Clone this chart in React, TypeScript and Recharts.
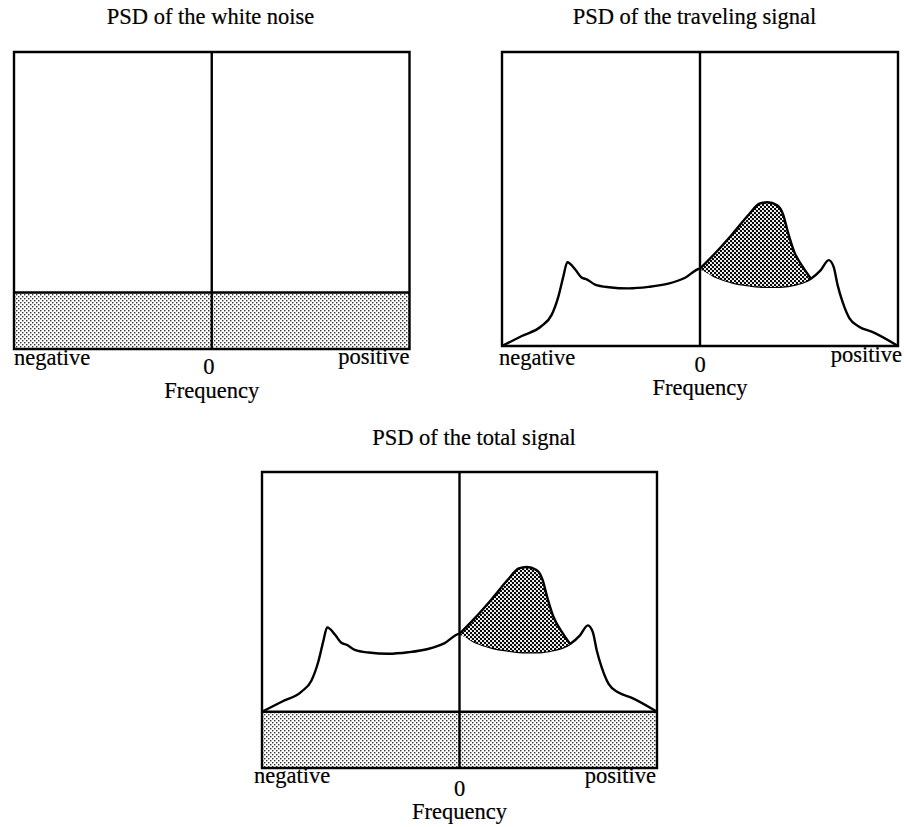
import React from 'react';
import { AreaChart, Area, XAxis, YAxis, ReferenceLine, ReferenceArea } from 'recharts';

// Normalised frequency axis: -1 = most negative, 0 = zero, 1 = most positive
const freq = [
  -1, -0.9, -0.8, -0.75, -0.715, -0.69, -0.67, -0.63, -0.6, -0.57,
  -0.53, -0.46, -0.36, -0.26, -0.16, -0.075, 0,
  0.08, 0.165, 0.25, 0.3, 0.34, 0.39, 0.42, 0.445, 0.475, 0.52,
  0.56, 0.61, 0.65, 0.675, 0.695, 0.72, 0.755, 0.805, 0.87, 1,
];

// Broadband part of the traveling-signal PSD (two resonance peaks)
const backgroundPsd = [
  0, 0.34, 0.68, 1.05, 1.69, 2.37, 2.85, 2.6, 2.34, 2.26,
  2.09, 2.0, 1.96, 2.01, 2.12, 2.32, 2.63,
  2.35, 2.16, 2.06, 2.02, 2.01, 2.01, 2.02, 2.04, 2.08, 2.16,
  2.29, 2.58, 2.92, 2.69, 2.07, 1.5, 0.94, 0.65, 0.48, 0,
];

// Extra energy of the travelling wave on the positive side (above the background)
const wavePsd: (number | null)[] = [
  null, null, null, null, null, null, null, null, null, null,
  null, null, null, null, null, null, 0,
  0.83, 1.66, 2.44, 2.82, 2.88, 2.78, 2.45, 1.81, 1.14, 0.52,
  0, null, null, null, null, null, null, null, null, null,
];

// White-noise level (flat across frequency)
const noiseLevel = 1.9;

const tickValues = [-1, 0, 1];
const tickLabels: Record<number, string> = { [-1]: 'negative', 0: '0', 1: 'positive' };

const rows = freq.map((f, i) => ({
  f,
  noise: noiseLevel,
  background: backgroundPsd[i],
  wave: wavePsd[i],
}));

const FONT = '"Liberation Serif", "Times New Roman", serif';
const FS = 22.5;
const TEXT_STROKE = 0.2;
const LINE_W = 2.4;

type LabelOffsets = {
  negDx: number; negDy: number;
  zeroDx: number; zeroDy: number;
  posDx: number; posDy: number;
  freqDy: number;
};

type PanelSpec = {
  id: string;
  title: string;
  titleX: number;
  titleBaseline: number;
  left: number;
  top: number;
  width: number;
  height: number;
  showNoise: boolean;
  showSignal: boolean;
  offsets: LabelOffsets;
};

const panels: PanelSpec[] = [
  {
    id: 'noise', title: 'PSD of the white noise', titleX: 210.5, titleBaseline: 24.5,
    left: 14, top: 52, width: 395.5, height: 297, showNoise: true, showSignal: false,
    offsets: { negDx: 0, negDy: 16, zeroDx: -3, zeroDy: 25, posDx: 0, posDy: 15, freqDy: 49 },
  },
  {
    id: 'signal', title: 'PSD of the traveling signal', titleX: 694.5, titleBaseline: 25,
    left: 501.5, top: 52, width: 396, height: 294, showNoise: false, showSignal: true,
    offsets: { negDx: -3, negDy: 19, zeroDx: 0, zeroDy: 25.5, posDx: 4, posDy: 16, freqDy: 48.5 },
  },
  {
    id: 'total', title: 'PSD of the total signal', titleX: 474, titleBaseline: 446,
    left: 261.5, top: 472, width: 395, height: 296, showNoise: true, showSignal: true,
    offsets: { negDx: -8, negDy: 15, zeroDx: 0, zeroDy: 28, posDx: -1, posDy: 15, freqDy: 51 },
  },
];

const M_L = 16;
const M_R = 16;
const M_T = 4;
const AXIS_H = 62;

function makeTick(o: LabelOffsets) {
  return function FreqTick(props: any) {
    const { x, y, payload } = props;
    const v = payload.value;
    let dx = o.zeroDx, dy = o.zeroDy, anchor: 'start' | 'middle' | 'end' = 'middle';
    if (v < 0) { dx = o.negDx; dy = o.negDy; anchor = 'start'; }
    if (v > 0) { dx = o.posDx; dy = o.posDy; anchor = 'end'; }
    return (
      <text
        x={x + dx} y={y + dy} textAnchor={anchor} fontFamily={FONT} fontSize={FS}
        fill="#000" stroke="#000" strokeWidth={TEXT_STROKE}
      >
        {tickLabels[v]}
      </text>
    );
  };
}

function makeAxisLabel(o: LabelOffsets) {
  return function FreqLabel(props: any) {
    const vb = props.viewBox || {};
    return (
      <text
        x={vb.x + vb.width / 2} y={vb.y + o.freqDy} textAnchor="middle" fontFamily={FONT} fontSize={FS}
        fill="#000" stroke="#000" strokeWidth={TEXT_STROKE}
      >
        Frequency
      </text>
    );
  };
}

function Panel({ p }: { p: PanelSpec }) {
  const lightId = `light-dots-${p.id}`;
  const darkId = `dark-dots-${p.id}`;
  const w = p.width + M_L + M_R;
  const h = p.height + M_T + AXIS_H;
  return (
    <>
      <div
        style={{
          position: 'absolute', left: p.titleX - 200, top: p.titleBaseline - 19, width: 400,
          textAlign: 'center', fontFamily: FONT, fontSize: FS, lineHeight: `${FS}px`, color: '#000',
          WebkitTextStroke: `${TEXT_STROKE}px #000`,
        }}
      >
        {p.title}
      </div>
      <div style={{ position: 'absolute', left: p.left - M_L, top: p.top - M_T }}>
        <AreaChart width={w} height={h} data={rows} margin={{ top: M_T, right: M_R, bottom: 0, left: M_L }}>
          <defs>
            <pattern id={lightId} width={4} height={4} patternUnits="userSpaceOnUse">
              <rect width={4} height={4} fill="#fff" />
              <rect x={0} y={0} width={1.4} height={1.4} fill="#333" />
              <rect x={2} y={2} width={1.4} height={1.4} fill="#333" />
            </pattern>
            <pattern id={darkId} width={4} height={4} patternUnits="userSpaceOnUse">
              <rect width={4} height={4} fill="#fff" />
              <circle cx={1} cy={1} r={1.2} fill="#000" />
              <circle cx={3} cy={3} r={1.2} fill="#000" />
            </pattern>
          </defs>
          <XAxis
            dataKey="f"
            type="number"
            domain={[-1, 1]}
            ticks={tickValues}
            interval={0}
            tickLine={false}
            axisLine={false}
            tickSize={0}
            tickMargin={0}
            height={AXIS_H}
            tick={makeTick(p.offsets)}
            label={{ value: 'Frequency', content: makeAxisLabel(p.offsets) }}
          />
          <YAxis type="number" domain={[0, 10]} hide />
          {p.showNoise && (
            <Area
              dataKey="noise"
              stackId="psd"
              type="linear"
              stroke="#000"
              strokeWidth={LINE_W}
              fill={`url(#${lightId})`}
              fillOpacity={1}
              isAnimationActive={false}
              dot={false}
              activeDot={false}
            />
          )}
          {p.showSignal && (
            <Area
              dataKey="background"
              stackId="psd"
              type="monotone"
              stroke="#000"
              strokeWidth={LINE_W}
              fill="none"
              isAnimationActive={false}
              dot={false}
              activeDot={false}
            />
          )}
          {p.showSignal && (
            <Area
              dataKey="wave"
              stackId="psd"
              type="monotone"
              stroke="#000"
              strokeWidth={LINE_W}
              fill={`url(#${darkId})`}
              fillOpacity={1}
              isAnimationActive={false}
              dot={false}
              activeDot={false}
            />
          )}
          <ReferenceLine x={0} stroke="#000" strokeWidth={LINE_W} />
          <ReferenceArea x1={-1} x2={1} y1={0} y2={10} fill="none" stroke="#000" strokeWidth={LINE_W} />
        </AreaChart>
      </div>
    </>
  );
}

export default function App() {
  return (
    <div style={{ position: 'absolute', left: 0, top: 0, width: 904, height: 827, background: '#fff' }}>
      {panels.map((p) => (
        <Panel key={p.id} p={p} />
      ))}
    </div>
  );
}
